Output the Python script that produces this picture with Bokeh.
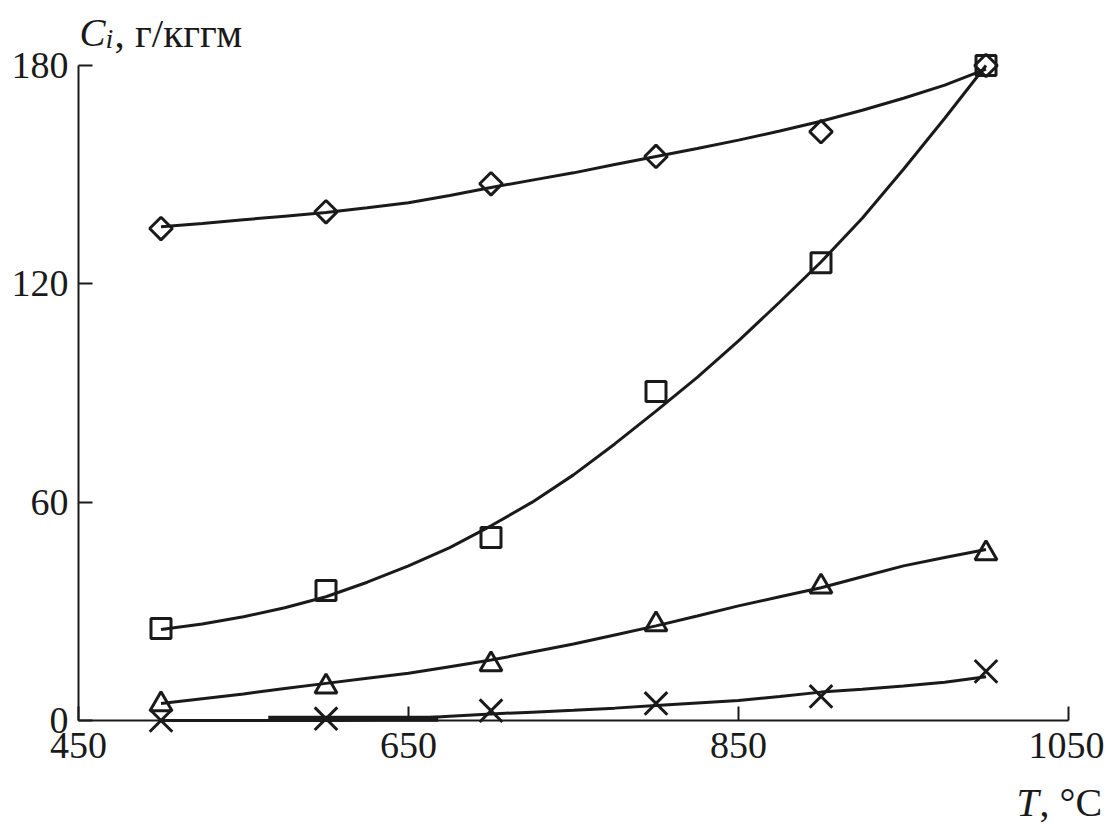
from bokeh.plotting import figure
from bokeh.models import Range1d, FixedTicker, LinearAxis
from bokeh.core.properties import value
from bokeh.embed import file_html
from bokeh.resources import INLINE

# measured points
T_pts = [500, 600, 700, 800, 900, 1000]
diamond_pts = [135.2, 139.8, 147.5, 155.0, 161.8, 180.0]
square_pts = [25.3, 35.7, 50.3, 90.4, 125.8, 180.0]
triangle_pts = [4.4, 9.3, 15.4, 26.4, 36.8, 45.9]
cross_pts = [0.0, 0.5, 2.7, 4.7, 6.6, 13.5]

# fitted curves
T_curve = [500, 525, 550, 575, 600, 625, 650, 675, 700, 725, 750,
           775, 800, 825, 850, 875, 900, 925, 950, 975, 1000]
diamond_curve = [135.7, 136.6, 137.6, 138.6, 139.6, 140.9, 142.3, 144.3, 146.5, 148.5, 150.5,
                 152.8, 155.0, 157.2, 159.5, 162.0, 164.7, 167.7, 171.0, 174.6, 179.0]
square_curve = [25.0, 26.5, 28.5, 31.0, 34.0, 38.0, 42.5, 47.5, 53.5, 60.0, 67.5,
                76.0, 85.0, 94.3, 104.3, 115.0, 126.0, 138.0, 151.5, 165.5, 180.0]
triangle_curve = [4.7, 6.0, 7.3, 8.8, 10.2, 11.6, 13.0, 14.8, 16.6, 18.8, 21.0,
                  23.5, 26.0, 28.7, 31.5, 34.0, 36.5, 39.5, 42.5, 44.8, 47.0]
cross_curve = [0.0, 0.0, 0.0, 0.0, 0.0, 0.2, 0.5, 1.2, 1.8, 2.3, 2.8,
               3.4, 4.1, 4.8, 5.5, 6.6, 7.8, 8.6, 9.5, 10.5, 12.0]
cross_thick_T = [565, 668]
cross_thick_C = [0.5, 0.5]

x_ticks = [450, 650, 850, 1050]
y_ticks = [0, 60, 120, 180]

FONT = "Liberation Serif"
INK = "#1a1a1a"

# canvas geometry (pixels)
W, H = 1104, 825
X0_PX, X1_PX = 78, 1068      # where 450 and 1050 fall
Y0_PX, Y1_PX = 720, 65       # where 0 and 180 fall
XMIN, XMAX = x_ticks[0], x_ticks[-1]
YMIN, YMAX = y_ticks[0], y_ticks[-1]
kx = (XMAX - XMIN) / (X1_PX - X0_PX)
ky = (YMAX - YMIN) / (Y0_PX - Y1_PX)


def dx(px):
    return XMIN + (px - X0_PX) * kx


def dy(py):
    return YMIN + (Y0_PX - py) * ky


p = figure(width=W, height=H, output_backend="svg", toolbar_location=None, title=None,
           x_range=Range1d(dx(0), dx(W)), y_range=Range1d(dy(H), dy(0)),
           x_axis_type=None, y_axis_type=None,
           min_border_left=0, min_border_right=0, min_border_top=0, min_border_bottom=0)
p.outline_line_color = None
p.xgrid.grid_line_color = None
p.ygrid.grid_line_color = None
p.background_fill_color = "white"

xax = LinearAxis(fixed_location=YMIN, bounds=(XMIN, XMAX), ticker=FixedTicker(ticks=x_ticks))
yax = LinearAxis(fixed_location=XMIN, bounds=(YMIN, YMAX), ticker=FixedTicker(ticks=y_ticks))
for ax in (xax, yax):
    ax.major_tick_in = 14
    ax.major_tick_out = 0
    ax.minor_tick_line_color = None
    ax.axis_line_width = 2
    ax.axis_line_color = INK
    ax.major_tick_line_width = 2
    ax.major_tick_line_color = INK
    ax.major_label_text_font = FONT
    ax.major_label_text_font_size = "38px"
    ax.major_label_text_color = INK
xax.major_label_standoff = 12
yax.major_label_standoff = 10
p.add_layout(xax, "below")
p.add_layout(yax, "left")

lw = 3
p.line(T_curve, diamond_curve, line_width=lw, line_color=INK)
p.line(T_curve, square_curve, line_width=lw, line_color=INK)
p.line(T_curve, triangle_curve, line_width=lw, line_color=INK)
p.line(T_curve, cross_curve, line_width=lw, line_color=INK)
p.line(cross_thick_T, cross_thick_C, line_width=6, line_color=INK)

p.scatter(T_pts, diamond_pts, marker="square", angle=0.7853981634, size=16,
          fill_color=None, line_color=INK, line_width=3)
p.scatter(T_pts, square_pts, marker="square", size=20, fill_color=None, line_color=INK, line_width=3)
p.scatter(T_pts, triangle_pts, marker="triangle", size=22, fill_color=None, line_color=INK, line_width=3)
p.scatter(T_pts, cross_pts, marker="x", size=32, line_color=INK, line_width=3)


def put(px, py, txt, style="normal", size="38px"):
    p.text(x=[dx(px)], y=[dy(py)], text=[txt], text_font=value(FONT), text_font_style=style,
           text_font_size=size, text_color=INK, text_baseline="alphabetic", text_align="left")


# axis titles
put(79, 32, "C", "italic", "39px")
put(105, 38, "i", "italic", "28px")
put(114, 32, ", г/кггм", "normal", "41px")
put(1016, 802, "T", "italic", "40px")
put(1039, 802, ", °C", "normal", "40px")

open("out.html", "w").write(file_html(p, INLINE))
